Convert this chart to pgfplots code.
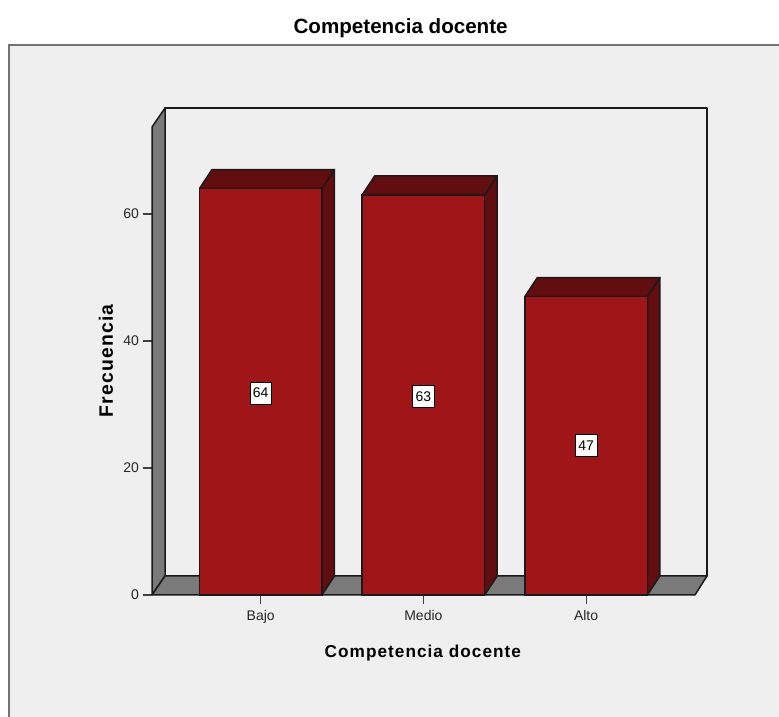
\documentclass[border=0pt]{standalone}
\usepackage{pgfplots}
\usepackage{fontspec}
\setmainfont{Liberation Sans}
\newfontface\labelfont[LetterSpace=6]{Liberation Sans Bold}
\pgfplotsset{compat=1.18}

\definecolor{panel}{HTML}{EFEFEF}
\definecolor{barfront}{HTML}{A01517}
\definecolor{bardark}{HTML}{620D0F}
\definecolor{wallgray}{HTML}{7A7A7A}
\definecolor{edge}{HTML}{1A1A1A}

\begin{document}
\begin{tikzpicture}[x=1pt,y=1pt]

\useasboundingbox (0,0) rectangle (779,717);
\fill[panel] (9,0) rectangle (779,672);
\draw[line width=1.6pt,color=black!55] (9,0) -- (9,672) -- (779,672);

\begin{axis}[%
width=555pt,
height=487pt,
scale only axis,
at={(152pt,122pt)},
anchor=south west,
clip=false,
xmin=-0.668,
xmax=2.743,
ymin=0,
ymax=76.7,
axis x line*=bottom,
axis y line*=left,
axis line style={draw=none,-},
xtick={0,1,2},
xticklabels={Bajo,Medio,Alto},
ytick={0,20,40,60},
tick align=outside,
major tick length=9.5pt,
tick style={color=black!75,line width=1.1pt},
tick label style={font=\fontsize{14}{16}\selectfont,color=black!85,/pgf/number format/assume math mode=true},
xticklabel style={yshift=-2pt},
xlabel={\labelfont Competencia docente},
ylabel={\labelfont Frecuencia},
title={\bfseries Competencia docente},
xlabel style={at={(axis description cs:0.488,-0.119)},anchor=center,font=\fontsize{17.2}{20}\selectfont},
ylabel style={at={(axis description cs:-0.083,0.4805)},anchor=center,font=\fontsize{19.4}{21}\selectfont},
title style={at={(axis description cs:0.448,1.152)},anchor=center,font=\fontsize{20.6}{22}\selectfont},
]

% back wall
\addplot[draw=edge,line width=1.5pt,fill=panel,line join=round] coordinates {
(-0.588,3) (2.743,3) (2.743,76.7) (-0.588,76.7) (-0.588,3)};
% left wall
\addplot[draw=edge,line width=1.5pt,fill=wallgray,line join=round] coordinates {
(-0.668,0) (-0.588,3) (-0.588,76.7) (-0.668,73.7) (-0.668,0)};
% floor
\addplot[draw=edge,line width=1.5pt,fill=wallgray,line join=round] coordinates {
(-0.668,0) (2.669,0) (2.743,3) (-0.588,3) (-0.668,0)};

% bar sides
\addplot[draw=edge,line width=1.5pt,fill=bardark,line join=round] coordinates {
(0.3765,0) (0.4535,3) (0.4535,67) (0.3765,64) (0.3765,0)};
\addplot[draw=edge,line width=1.5pt,fill=bardark,line join=round] coordinates {
(1.3765,0) (1.4535,3) (1.4535,66) (1.3765,63) (1.3765,0)};
\addplot[draw=edge,line width=1.5pt,fill=bardark,line join=round] coordinates {
(2.3765,0) (2.4535,3) (2.4535,50) (2.3765,47) (2.3765,0)};

% bar tops
\addplot[draw=edge,line width=1.5pt,fill=bardark,line join=round] coordinates {
(-0.3765,64) (0.3765,64) (0.4535,67) (-0.2995,67) (-0.3765,64)};
\addplot[draw=edge,line width=1.5pt,fill=bardark,line join=round] coordinates {
(0.6235,63) (1.3765,63) (1.4535,66) (0.7005,66) (0.6235,63)};
\addplot[draw=edge,line width=1.5pt,fill=bardark,line join=round] coordinates {
(1.6235,47) (2.3765,47) (2.4535,50) (1.7005,50) (1.6235,47)};

% bar fronts
\addplot[ybar,bar shift=0pt,bar width=0.753,draw=edge,line width=1.5pt,fill=barfront] coordinates {
(0,64) (1,63) (2,47)};

% value labels
\addplot[
draw=none,
point meta=explicit,
nodes near coords,
nodes near coords align={center},
every node near coord/.append style={
  fill=white,draw=black,line width=0.7pt,
  font=\fontsize{14}{16}\selectfont,
  inner sep=3pt,minimum height=22pt,
  /pgf/number format/assume math mode=true}
] coordinates {
(0,31.8) [64]
(1,31.3) [63]
(2,23.5) [47]
};

\end{axis}

\end{tikzpicture}
\end{document}
